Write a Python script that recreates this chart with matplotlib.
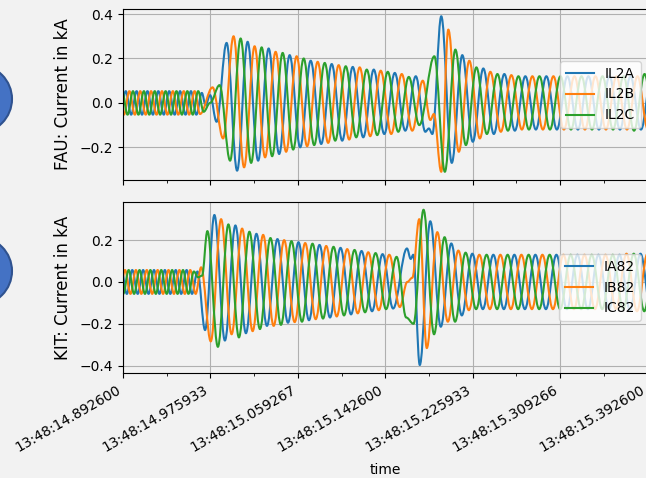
import numpy as np
import matplotlib
matplotlib.use("Agg")
import matplotlib.pyplot as plt
from matplotlib.patches import Ellipse, PathPatch
from matplotlib.path import Path
from matplotlib.lines import Line2D

# ---- time axis: milliseconds after 13:48:14.892600 ----
tick_ms = [0.0, 83.333, 166.667, 250.0, 333.333, 416.667, 500.0]
tick_labels = ["13:48:14.892600", "13:48:14.975933", "13:48:15.059267",
               "13:48:15.142600", "13:48:15.225933", "13:48:15.309266",
               "13:48:15.392600"]
minor_ms = [41.667, 125.0, 208.333, 291.667, 375.0, 458.333]

# ---- read extrema of each phase: segments of (start_ms, step_ms, values) ----
IL2A = [
    (-2.58, 5.18, [-0.053, 0.053, -0.053, 0.053, -0.053, 0.053, -0.053, 0.053,
                   -0.053, 0.053, -0.053, 0.053, -0.053, 0.053, -0.053, 0.045]),
    (78.72, 0, [-0.01]), (83.02, 0, [0.035]), (89.22, 0, [-0.085]),
    (98.76, 10.02, [0.27, -0.305, 0.275, -0.26, 0.245, -0.23, 0.215, -0.20, 0.19,
                    -0.185, 0.175, -0.17, 0.162, -0.155, 0.15, -0.14, 0.135, -0.125, 0.12]),
    (288.2, 0, [-0.13]), (291.6, 0, [-0.115]), (294.9, 0, [-0.14]),
    (303.4, 10.02, [0.39, -0.27, 0.215, -0.175, 0.155, -0.14, 0.13, -0.125, 0.12, -0.12,
                    0.12, -0.12, 0.12, -0.12, 0.12, -0.12, 0.12, -0.12, 0.12, -0.12, 0.12]),
]
IL2B = [
    (-4.29, 5.18, [0.053, -0.053, 0.053, -0.053, 0.053, -0.053, 0.053, -0.053,
                   0.053, -0.053, 0.053, -0.053, 0.053, -0.053, 0.053, -0.05]),
    (85.4, 0, [0.07]), (95.42, 0, [-0.16]),
    (105.4, 10.02, [0.30, -0.29, 0.255, -0.245, 0.23, -0.22, 0.21, -0.195, 0.185, -0.18,
                    0.17, -0.165, 0.16, -0.15, 0.145, -0.14, 0.13, -0.125, 0.10]),
    (293.0, 0, [-0.077]), (296.3, 0, [-0.05]), (303.4, 0, [-0.31]),
    (310.1, 10.02, [0.33, -0.22, 0.19, -0.16, 0.14, -0.13, 0.125, -0.12, 0.12, -0.12,
                    0.12, -0.12, 0.12, -0.12, 0.12, -0.12, 0.12, -0.12, 0.12, -0.12]),
]
IL2C = [
    (-6.01, 5.18, [-0.053, 0.053, -0.053, 0.053, -0.053, 0.053, -0.053, 0.053, -0.053,
                   0.053, -0.053, 0.053, -0.053, 0.053, -0.053, 0.053, -0.04]),
    (83.02, 0, [0.0]),
    (92.08, 10.02, [0.08, -0.26, 0.29, -0.27, 0.25, -0.24, 0.225, -0.21, 0.20, -0.19,
                    0.18, -0.17, 0.165, -0.155, 0.15, -0.145, 0.14, -0.13, 0.117, -0.10]),
    (296.8, 10.02, [0.21, -0.31, 0.24, -0.19, 0.16, -0.14, 0.13, -0.125, 0.12, -0.12, 0.12,
                    -0.12, 0.12, -0.12, 0.12, -0.12, 0.12, -0.12, 0.12, -0.125, 0.13, -0.13]),
]

IA82 = [
    (-1.53, 5.18, [0.057, -0.057, 0.057, -0.057, 0.057, -0.057, 0.057, -0.057,
                   0.057, -0.057, 0.057, -0.057, 0.057, -0.057, 0.05]),
    (78.24, 0, [-0.23]),
    (87.12, 10.02, [0.32, -0.28, 0.27, -0.245, 0.23, -0.21, 0.205, -0.195, 0.19,
                    -0.183, 0.177, -0.17, 0.163, -0.155, 0.148, -0.14, 0.133, -0.127]),
    (270.7, 0, [0.16]), (274.3, 0, [0.11]), (276.7, 0, [0.13]),
    (282.9, 10.02, [-0.397, 0.29, -0.214, 0.184, -0.16, 0.135, -0.13, 0.13, -0.13, 0.13,
                    -0.13, 0.13, -0.13, 0.13, -0.13, 0.13, -0.13, 0.13, -0.13, 0.13,
                    -0.135, 0.135, -0.135]),
]
IB82 = [
    (-3.24, 5.18, [-0.057, 0.057, -0.057, 0.057, -0.057, 0.057, -0.057, 0.057,
                   -0.057, 0.057, -0.057, 0.057, -0.057, 0.057, -0.057, 0.07]),
    (83.68, 0, [-0.284]),
    (93.51, 10.02, [0.30, -0.25, 0.255, -0.235, 0.225, -0.21, 0.20, -0.192, 0.186,
                    -0.178, 0.172, -0.165, 0.157, -0.15, 0.142, -0.135, 0.13, -0.12]),
    (271.0, 0, [0.0]), (275.8, 0, [0.02]), (282.4, 0, [0.30]),
    (289.6, 10.02, [-0.316, 0.238, -0.19, 0.15, -0.135, 0.13, -0.13, 0.13, -0.13, 0.13,
                    -0.13, 0.13, -0.13, 0.13, -0.13, 0.13, -0.13, 0.13, -0.13, 0.135,
                    -0.14, 0.135]),
]
IC82 = [
    (-4.96, 5.18, [0.057, -0.057, 0.057, -0.057, 0.057, -0.057, 0.057, -0.057,
                   0.057, -0.057, 0.057, -0.057, 0.057, -0.057, 0.05]),
    (71.56, 0, [0.022]), (75.38, 0, [0.03]),
    (80.44, 10.02, [0.243, -0.31, 0.275, -0.265, 0.24, -0.225, 0.21, -0.205, 0.195,
                    -0.19, 0.183, -0.175, 0.168, -0.16, 0.153, -0.145, 0.138, -0.13, 0.12]),
    (270.0, 0, [-0.17]), (276.99, 0, [-0.20]),
    (286.5, 10.02, [0.345, -0.25, 0.214, -0.19, 0.14, -0.13, 0.13, -0.13, 0.13, -0.13,
                    0.13, -0.13, 0.13, -0.13, 0.13, -0.13, 0.13, -0.13, 0.13, -0.13,
                    0.135, -0.14, 0.135]),
]

top_series = [("IL2A", IL2A), ("IL2B", IL2B), ("IL2C", IL2C)]
bottom_series = [("IA82", IA82), ("IB82", IB82), ("IC82", IC82)]
colors = ["#1f77b4", "#ff7f0e", "#2ca02c"]


def build(segments):
    ts, vs = [], []
    for start, step, vals in segments:
        ts.extend(start + step * np.arange(len(vals)))
        vs.extend(vals)
    return np.array(ts), np.array(vs)


def wave_path(t, v):
    """Smooth curve through the extrema: cubic Bezier with flat tangents."""
    a = 1 - 2 / np.pi
    verts = [(t[0], v[0])]
    codes = [Path.MOVETO]
    for i in range(len(t) - 1):
        dt = t[i + 1] - t[i]
        verts += [(t[i] + a * dt, v[i]), (t[i + 1] - a * dt, v[i + 1]), (t[i + 1], v[i + 1])]
        codes += [Path.CURVE4] * 3
    return Path(verts, codes)


BG = "#f2f2f2"
W, H = 646, 478
fig = plt.figure(figsize=(W / 100, H / 100), dpi=100, facecolor=BG)

left = 123 / W
width = 524.5 / W
ax1 = fig.add_axes([left, 1 - 180 / H, width, 171 / H], facecolor=BG)
ax2 = fig.add_axes([left, 1 - 373 / H, width, 171 / H], facecolor=BG)

for ax, series, ylab, ylim in [
    (ax1, top_series, "FAU: Current in kA", (-0.347, 0.4226)),
    (ax2, bottom_series, "KIT: Current in kA", (-0.435, 0.382)),
]:
    handles = []
    for (name, seg), c in zip(series, colors):
        t, v = build(seg)
        ax.add_patch(PathPatch(wave_path(t, v), facecolor="none", edgecolor=c,
                               lw=1.5, joinstyle="round", capstyle="butt", zorder=2))
        handles.append(Line2D([], [], color=c, lw=1.5, label=name))
    ax.set_xlim(0, 500)
    ax.set_ylim(*ylim)
    ax.set_xticks(tick_ms)
    ax.set_xticks(minor_ms, minor=True)
    ax.grid(True, which="major", color="#b0b0b0", lw=0.8)
    ax.set_axisbelow(True)
    ax.set_ylabel(ylab, fontsize=12)
    ax.yaxis.set_label_coords(-0.097, 0.5)
    ax.legend(handles=handles, loc="center right")

ax1.set_yticks([-0.2, 0.0, 0.2, 0.4])
ax2.set_yticks([-0.4, -0.2, 0.0, 0.2])
ax1.tick_params(axis="x", labelbottom=False)
ax2.set_xticklabels(tick_labels, rotation=30, ha="right")
ax2.set_xlabel("time", labelpad=6)

# decorative circles at the left edge
for cy in (99, 271):
    fig.patches.append(Ellipse((-22 / W, 1 - cy / H), 68 / W, 68 / H,
                               transform=fig.transFigure, facecolor="#4472C4",
                               edgecolor="#2F528F", lw=1.5, zorder=0))

fig.savefig("out.png", dpi=100, facecolor=BG)
